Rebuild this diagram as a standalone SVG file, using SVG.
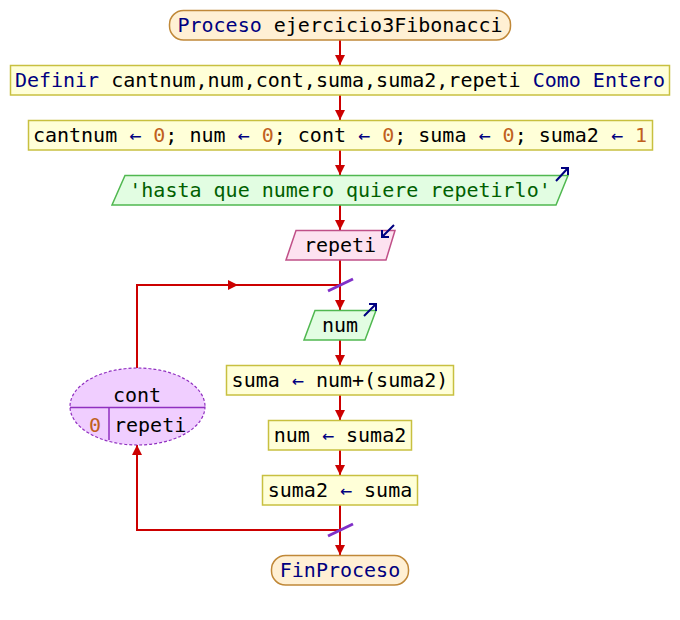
<svg xmlns="http://www.w3.org/2000/svg" width="680" height="620" viewBox="0 0 680 620">
<defs>
<style>
text{font-family:"DejaVu Sans Mono","Liberation Mono",monospace;font-size:20px;fill:#000}
.kw{fill:#000080}
.num{fill:#c06020}
.op{fill:#000080}
.str{fill:#006000}
.term{fill:#fff0d4;stroke:#c08838;stroke-width:1.5}
.proc{fill:#ffffd8;stroke:#c8c040;stroke-width:1.5}
.out{fill:#e2fde2;stroke:#50b850;stroke-width:1.5}
.inp{fill:#fde2f0;stroke:#c05088;stroke-width:1.5}
.loop{fill:#f0ceff;stroke:#9030c0;stroke-width:1.2;stroke-dasharray:3 2}
.div{stroke:#9030c0;stroke-width:1.5;fill:none}
.conn{stroke:#cc0000;stroke-width:2;fill:none}
.slash{stroke:#8030c8;stroke-width:3;fill:none}
.icon{stroke:#000080;stroke-width:2;fill:none}
</style>
<marker id="ah" viewBox="0 0 10 10" refX="10" refY="5" markerWidth="10" markerHeight="10" markerUnits="userSpaceOnUse" orient="auto">
<path d="M0,0 L10,5 L0,10 Z" fill="#cc0000"/>
</marker>
</defs>
<g id="connectors">
<line class="conn" x1="340" y1="40" x2="340" y2="65" marker-end="url(#ah)"/>
<line class="conn" x1="340" y1="95" x2="340" y2="120" marker-end="url(#ah)"/>
<line class="conn" x1="340" y1="150" x2="340" y2="175" marker-end="url(#ah)"/>
<line class="conn" x1="340" y1="205" x2="340" y2="230" marker-end="url(#ah)"/>
<line class="conn" x1="340" y1="260" x2="340" y2="310" marker-end="url(#ah)"/>
<line class="conn" x1="340" y1="340" x2="340" y2="365" marker-end="url(#ah)"/>
<line class="conn" x1="340" y1="395" x2="340" y2="420" marker-end="url(#ah)"/>
<line class="conn" x1="340" y1="450" x2="340" y2="475" marker-end="url(#ah)"/>
<line class="conn" x1="340" y1="505" x2="340" y2="555" marker-end="url(#ah)"/>
<polyline class="conn" points="137,368 137,285 238,285" marker-end="url(#ah)"/>
<line class="conn" x1="236" y1="285" x2="340" y2="285"/>
<polyline class="conn" points="340,530 137,530 137,445" marker-end="url(#ah)"/>
<line class="slash" x1="328" y1="291" x2="353" y2="279"/>
<line class="slash" x1="328" y1="536" x2="353" y2="524"/>
</g>
<g id="start">
<rect class="term" x="169.5" y="10.5" width="341" height="29.5" rx="14"/>
<text x="340" y="32" text-anchor="middle"><tspan class="kw">Proceso</tspan> ejercicio3Fibonacci</text>
</g>
<g id="definir">
<rect class="proc" x="10.5" y="65.5" width="659" height="29.5"/>
<text x="340" y="87" text-anchor="middle"><tspan class="kw">Definir</tspan> cantnum,num,cont,suma,suma2,repeti <tspan class="kw">Como Entero</tspan></text>
</g>
<g id="asignar">
<rect class="proc" x="28.5" y="120.5" width="624" height="29.5"/>
<text x="340" y="142" text-anchor="middle">cantnum <tspan class="op">←</tspan> <tspan class="num">0</tspan>; num <tspan class="op">←</tspan> <tspan class="num">0</tspan>; cont <tspan class="op">←</tspan> <tspan class="num">0</tspan>; suma <tspan class="op">←</tspan> <tspan class="num">0</tspan>; suma2 <tspan class="op">←</tspan> <tspan class="num">1</tspan></text>
</g>
<g id="escribir">
<polygon class="out" points="125,175.5 568,175.5 556,205 112,205"/>
<text x="340" y="197" text-anchor="middle" class="str">'hasta que numero quiere repetirlo'</text>
<path class="icon" d="M556,181 L568,168 M561,168 L568,168 L568,175"/>
</g>
<g id="leer">
<polygon class="inp" points="296,230.5 395,230.5 386,260 286,260"/>
<text x="340" y="252" text-anchor="middle">repeti</text>
<path class="icon" d="M394,225 L382,237 M382,230 L382,237 L389,237"/>
</g>
<g id="para">
<ellipse class="loop" cx="137.5" cy="406.5" rx="67.5" ry="38.5"/>
<line class="div" x1="70" y1="407.5" x2="205" y2="407.5"/>
<line class="div" x1="109" y1="407.5" x2="109" y2="440"/>
<text x="137" y="402" text-anchor="middle">cont</text>
<text x="89" y="432" class="num">0</text>
<text x="114" y="432">repeti</text>
</g>
<g id="escribir2">
<polygon class="out" points="315,310.5 376,310.5 365,340 304,340"/>
<text x="340" y="332" text-anchor="middle">num</text>
<path class="icon" d="M364,316 L376,304 M369,304 L376,304 L376,311"/>
</g>
<g id="suma">
<rect class="proc" x="226.5" y="365.5" width="227" height="29.5"/>
<text x="340" y="387" text-anchor="middle">suma <tspan class="op">←</tspan> num+(suma2)</text>
</g>
<g id="num">
<rect class="proc" x="268.5" y="420.5" width="143" height="29.5"/>
<text x="340" y="442" text-anchor="middle">num <tspan class="op">←</tspan> suma2</text>
</g>
<g id="suma2">
<rect class="proc" x="262.5" y="475.5" width="155" height="29.5"/>
<text x="340" y="497" text-anchor="middle">suma2 <tspan class="op">←</tspan> suma</text>
</g>
<g id="fin">
<rect class="term" x="271.5" y="555.5" width="137" height="29.5" rx="14"/>
<text x="340" y="577" text-anchor="middle" class="kw">FinProceso</text>
</g>
</svg>
